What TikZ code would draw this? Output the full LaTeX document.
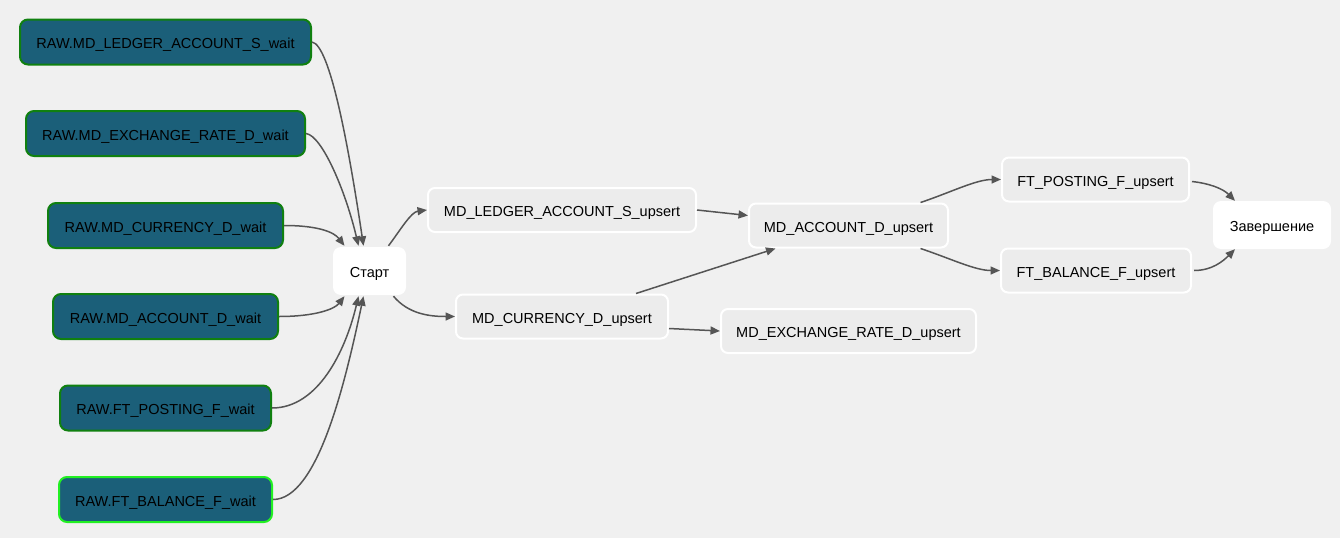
\documentclass[tikz,border=0pt]{standalone}
\usepackage{fontspec}
\setmainfont{Liberation Sans}
\usetikzlibrary{arrows.meta,calc}
\definecolor{bg}{HTML}{F0F0F0}
\definecolor{rawfill}{HTML}{1B5F79}
\definecolor{rawborder}{HTML}{108010}
\definecolor{rawbright}{HTML}{22F022}
\definecolor{taskfill}{HTML}{ECECEC}
\definecolor{edgecol}{HTML}{555555}
\tikzset{
  lbl/.style={inner sep=0pt, text=black, text height=13.5pt, text depth=0pt,
    font=\fontsize{14.5}{17}\selectfont},
  rawbox/.style={lbl, rounded corners=8pt, fill=rawfill, draw=rawborder, line width=2pt,
    minimum height=45pt},
  taskbox/.style={lbl, rounded corners=7pt, fill=taskfill, draw=white, line width=2pt,
    minimum height=44pt},
  termbox/.style={lbl, rounded corners=8pt, fill=white, draw=none,
    minimum height=48pt},
  conn/.style={draw=edgecol, line width=1.5pt, -{Triangle[length=9.5pt,width=8pt]}},
}
\begin{document}
\begin{tikzpicture}[x=1pt,y=-1pt]
\fill[bg] (0,0) rectangle (1340,538);
\useasboundingbox (0,0) rectangle (1340,538);

% source nodes
\node[rawbox, minimum width=291pt] (raw1) at (165.5,42) {RAW.MD\_LEDGER\_ACCOUNT\_S\_wait};
\node[rawbox, minimum width=279pt] (raw2) at (165.5,133.5) {RAW.MD\_EXCHANGE\_RATE\_D\_wait};
\node[rawbox, minimum width=235pt] (raw3) at (165.5,225.5) {RAW.MD\_CURRENCY\_D\_wait};
\node[rawbox, minimum width=225pt] (raw4) at (165.5,316.5) {RAW.MD\_ACCOUNT\_D\_wait};
\node[rawbox, minimum width=211pt] (raw5) at (165.5,408) {RAW.FT\_POSTING\_F\_wait};
\node[rawbox, minimum width=213pt, draw=rawbright] (raw6) at (165.5,499.5) {RAW.FT\_BALANCE\_F\_wait};

% start / end
\node[termbox, minimum width=73pt] (start) at (369.5,271) {Старт};
\node[termbox, minimum width=118pt] (end) at (1272,225) {Завершение};

% tasks
\node[taskbox, minimum width=268pt] (ledger) at (562,210) {MD\_LEDGER\_ACCOUNT\_S\_upsert};
\node[taskbox, minimum width=212pt] (currency) at (562,316.5) {MD\_CURRENCY\_D\_upsert};
\node[taskbox, minimum width=199pt] (account) at (848.5,225.5) {MD\_ACCOUNT\_D\_upsert};
\node[taskbox, minimum width=255pt] (exchange) at (848.5,331) {MD\_EXCHANGE\_RATE\_D\_upsert};
\node[taskbox, minimum width=187pt] (posting) at (1095.5,179.5) {FT\_POSTING\_F\_upsert};
\node[taskbox, minimum width=190pt] (balance) at (1096,270.5) {FT\_BALANCE\_F\_upsert};

% edges into start
\draw[conn] (raw1.east) .. controls +(18,3) and +(-15,-100) .. ($(start.north)+(-6,-1)$);
\draw[conn] (raw2.east) .. controls +(16,2) and +(-13,-55) .. ($(start.north)+(-11,-1)$);
\draw[conn] (raw3.east) .. controls +(36,0) and +(-10,-13) .. ($(start.north)+(-25,-1)$);
\draw[conn] (raw4.east) .. controls +(36,0) and +(-10,13) .. ($(start.south)+(-25,1)$);
\draw[conn] (raw5.east) .. controls +(46,0) and +(-13,55) .. ($(start.south)+(-11,1)$);
\draw[conn] (raw6.east) .. controls +(45,0) and +(-18,85) .. ($(start.south)+(-6,1)$);

% start to tasks
\draw[conn] ($(start.north)+(19,-1)$) .. controls +(12,-16) and +(-16,2) .. (ledger.west);
\draw[conn] ($(start.south)+(24,1)$) .. controls +(15,18) and +(-25,0) .. (currency.west);

% middle
\draw[conn] (ledger.east) -- ($(account.west)+(0,-10)$);
\draw[conn] ($(currency.north)+(74,0)$) -- ($(account.south)+(-73,0)$);
\draw[conn] ($(currency.east)+(0,12)$) -- (exchange.west);

% account to facts
\draw[conn] ($(account.north)+(72,0)$) .. controls +(30,-10) and +(-25,0) .. (posting.west);
\draw[conn] ($(account.south)+(72,0)$) .. controls +(30,10) and +(-25,0) .. (balance.west);

% facts to end
\draw[conn] ($(posting.east)+(2,2)$) .. controls +(18,2) and +(-12,-12) .. ($(end.north)+(-37,0)$);
\draw[conn] ($(balance.east)+(2,0)$) .. controls +(18,0) and +(-12,12) .. ($(end.south)+(-37,0)$);
\end{tikzpicture}
\end{document}
